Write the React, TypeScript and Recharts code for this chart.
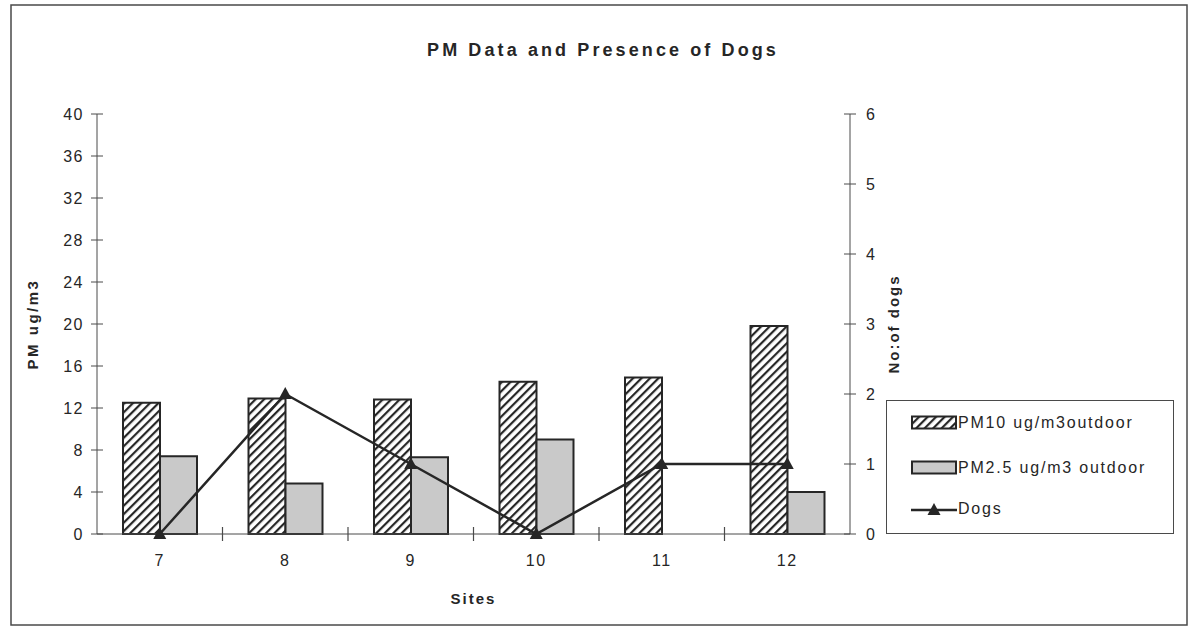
import React from "react";
import { ComposedChart, Bar, Line, XAxis, YAxis, Legend } from "recharts";

const sites = ["7", "8", "9", "10", "11", "12"];
const pm10Values = [12.5, 12.9, 12.8, 14.5, 14.9, 19.8];
const pm25Values: (number | null)[] = [7.4, 4.8, 7.3, 9.0, null, 4.0];
const dogCounts = [0, 2, 1, 0, 1, 1];

const pmTicks = [0, 4, 8, 12, 16, 20, 24, 28, 32, 36, 40];
const dogTicks = [0, 1, 2, 3, 4, 5, 6];

const seriesLabels = ["PM10 ug/m3outdoor", "PM2.5 ug/m3 outdoor", "Dogs"];

const data = sites.map((site, i) => ({
  site,
  pm10: pm10Values[i],
  pm25: pm25Values[i],
  dogs: dogCounts[i],
}));

const INK = "#262626";
const AXIS = "#4a4a4a";
const GREY_FILL = "#c9c9c9";
const FONT = "'Liberation Sans', Arial, sans-serif";

const W = 1195;
const H = 636;

function Hatch({ id }: { id: string }) {
  return (
    <defs>
      <pattern
        id={id}
        patternUnits="userSpaceOnUse"
        width={6}
        height={6}
        patternTransform="rotate(45)"
      >
        <rect width={6} height={6} fill="#fff" />
        <rect x={0} y={0} width={2.2} height={6} fill={INK} />
      </pattern>
    </defs>
  );
}

// category label plus a crossing tick on the boundary to its right
function SiteTick(props: any) {
  const { x, y, payload, index } = props;
  const half = payload?.offset ?? 0;
  const axisY = y - 21;
  return (
    <g>
      <text
        x={x}
        y={y}
        dy="0.71em"
        textAnchor="middle"
        fill={INK}
        fontSize={16}
      >
        {payload.value}
      </text>
      {index < sites.length - 1 && (
        <line
          x1={x + half}
          x2={x + half}
          y1={axisY - 7}
          y2={axisY + 7}
          stroke={AXIS}
          strokeWidth={1.2}
        />
      )}
    </g>
  );
}

function TriangleDot(props: any) {
  const { cx, cy, index } = props;
  if (cx == null || cy == null) return null;
  return (
    <polygon
      key={`dog-${index}`}
      points={`${cx},${cy - 7} ${cx - 6.5},${cy + 5} ${cx + 6.5},${cy + 5}`}
      fill={INK}
    />
  );
}

function LegendBox() {
  const rowStyle = (top: number): React.CSSProperties => ({
    position: "absolute",
    left: 24,
    top,
    height: 20,
    display: "flex",
    alignItems: "center",
    whiteSpace: "nowrap",
  });
  return (
    <div
      style={{
        position: "relative",
        boxSizing: "border-box",
        width: 288,
        height: 134,
        border: `1.5px solid ${AXIS}`,
        background: "#fff",
        fontFamily: FONT,
        fontSize: 16,
        letterSpacing: 1.8,
        color: INK,
      }}
    >
      <div style={rowStyle(12)}>
        <svg width={47} height={16}>
          <Hatch id="legendHatch" />
          <rect x={1} y={1.5} width={44} height={12} fill="url(#legendHatch)" stroke={INK} strokeWidth={2} />
        </svg>
        <span>{seriesLabels[0]}</span>
      </div>
      <div style={rowStyle(57)}>
        <svg width={47} height={16}>
          <rect x={1} y={1.5} width={44} height={12} fill={GREY_FILL} stroke={INK} strokeWidth={2} />
        </svg>
        <span>{seriesLabels[1]}</span>
      </div>
      <div style={rowStyle(98)}>
        <svg width={47} height={16}>
          <line x1={0} x2={46} y1={9} y2={9} stroke={INK} strokeWidth={2.5} />
          <polygon points="23,2 16.5,14 29.5,14" fill={INK} />
        </svg>
        <span>{seriesLabels[2]}</span>
      </div>
    </div>
  );
}

export default function App() {
  return (
    <div
      style={{
        position: "absolute",
        left: 0,
        top: 0,
        width: W,
        height: H,
        background: "#fff",
        fontFamily: FONT,
        letterSpacing: 1.5,
      }}
    >
      <ComposedChart
        width={W}
        height={H}
        data={data}
        margin={{ top: 114, right: 285, bottom: 22, left: 0 }}
        barGap={0}
      >
        <Hatch id="pm10Hatch" />
        <rect x={11} y={5} width={1176} height={620} fill="none" stroke={AXIS} strokeWidth={1.5} />
        <text
          x={603}
          y={56}
          textAnchor="middle"
          fill={INK}
          fontSize={18}
          fontWeight={700}
          style={{ letterSpacing: 3.1 }}
        >
          PM Data and Presence of Dogs
        </text>

        <XAxis
          dataKey="site"
          height={80}
          stroke={AXIS}
          tickLine={false}
          tickSize={0}
          tickMargin={21}
          tick={<SiteTick />}
          interval={0}
          label={{
            value: "Sites",
            position: "insideBottom",
            offset: 10,
            fill: INK,
            fontSize: 15,
            fontWeight: 700,
            style: { letterSpacing: 2 },
          }}
        />
        <YAxis
          yAxisId="pm"
          width={97}
          domain={[0, 40]}
          ticks={pmTicks}
          interval={0}
          stroke={AXIS}
          tickSize={12}
          tickMargin={1}
          tickLine={{ stroke: AXIS, transform: "translate(6 0)" }}
          tick={{ fill: INK, fontSize: 16 }}
          label={{
            value: "PM ug/m3",
            angle: -90,
            position: "insideLeft",
            offset: 33,
            fill: INK,
            fontSize: 15,
            fontWeight: 700,
            style: { textAnchor: "middle", letterSpacing: 2.5 },
          }}
        />
        <YAxis
          yAxisId="dogs"
          orientation="right"
          width={60}
          domain={[0, 6]}
          ticks={dogTicks}
          interval={0}
          stroke={AXIS}
          tickSize={12}
          tickMargin={4}
          tickLine={{ stroke: AXIS, transform: "translate(-6 0)" }}
          tick={{ fill: INK, fontSize: 16 }}
          label={{
            value: "No:of dogs",
            angle: -90,
            position: "insideRight",
            offset: 16,
            fill: INK,
            fontSize: 15,
            fontWeight: 700,
            style: { textAnchor: "middle", letterSpacing: 2 },
          }}
        />

        <Bar
          yAxisId="pm"
          dataKey="pm10"
          name={seriesLabels[0]}
          barSize={37}
          fill="url(#pm10Hatch)"
          stroke={INK}
          strokeWidth={2}
          isAnimationActive={false}
        />
        <Bar
          yAxisId="pm"
          dataKey="pm25"
          name={seriesLabels[1]}
          barSize={37}
          fill={GREY_FILL}
          stroke={INK}
          strokeWidth={2}
          isAnimationActive={false}
        />
        <Line
          yAxisId="dogs"
          dataKey="dogs"
          name={seriesLabels[2]}
          type="linear"
          stroke={INK}
          strokeWidth={2.5}
          dot={(p: any) => <TriangleDot key={`dog-${p.index}`} {...p} />}
          activeDot={false}
          isAnimationActive={false}
        />

        <Legend
          layout="vertical"
          align="center"
          verticalAlign="middle"
          wrapperStyle={{ left: 886, top: 400, width: 288, height: 134 }}
          content={() => <LegendBox />}
        />
      </ComposedChart>
    </div>
  );
}
